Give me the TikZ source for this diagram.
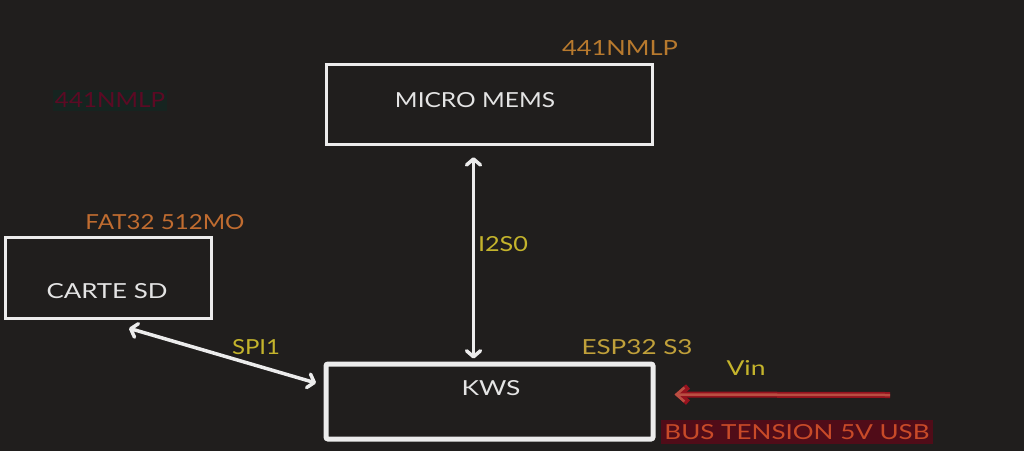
\documentclass[tikz,border=0pt]{standalone}
\usepackage{fontspec}
\setmainfont{Lato}
\usetikzlibrary{arrows.meta,calc}
\definecolor{bg}{RGB}{32,30,29}
\definecolor{boxw}{RGB}{236,236,236}
\definecolor{txtw}{RGB}{228,228,228}
\definecolor{orgA}{RGB}{184,122,46}
\definecolor{orgB}{RGB}{192,108,48}
\definecolor{yelA}{RGB}{196,180,44}
\definecolor{yelB}{RGB}{192,160,58}
\definecolor{busT}{RGB}{200,74,40}
\definecolor{busBG}{RGB}{80,12,24}
\definecolor{ghostT}{RGB}{92,10,36}
\definecolor{ghostBG}{RGB}{22,36,32}
\definecolor{redD}{RGB}{150,18,30}
\definecolor{redL}{RGB}{186,78,66}
\newcommand{\fitt}[2]{\resizebox{#1pt}{15pt}{#2}}
\tikzset{
  lbl/.style={inner sep=0pt, anchor=center},
  boxS/.style={draw=boxw, line width=3.5pt, inner sep=0pt},
  wline/.style={draw=boxw, line width=3.5pt, line cap=round, {Straight Barb[length=6pt,width=14pt,round]}-{Straight Barb[length=6pt,width=14pt,round]}},
}
\begin{document}
\begin{tikzpicture}[x=1pt,y=-1pt]
\fill[bg] (0,0) rectangle (1024,451);
\useasboundingbox (0,0) rectangle (1024,451);
% boxes
\node[boxS, minimum width=326pt, minimum height=80pt] (mems) at (489.5,104.5) {};
\node[boxS, minimum width=206pt, minimum height=81pt] (sd) at (108.5,278) {};
\node[boxS, line width=5pt, rounded corners=2pt, minimum width=327pt, minimum height=75pt] (kws) at (489.5,401.5) {};
% box texts
\node[lbl, text=txtw] (memsT) at (475,100) {\fitt{160}{MICRO MEMS}};
\node[lbl, text=txtw] (sdT) at (107,291) {\fitt{121}{CARTE SD}};
\node[lbl, text=txtw] (kwsT) at (491,388) {\fitt{59}{KWS}};
% labels
\node[lbl, text=orgA] (l441) at (620,48) {\fitt{116}{441NMLP}};
\node[lbl, text=ghostT, fill=ghostBG, inner xsep=2pt, inner ysep=3pt] (ghost) at (110,100) {\fitt{110}{441NMLP}};
\node[lbl, text=orgB] (lfat) at (165,222) {\fitt{159}{FAT32 512MO}};
\node[lbl, text=yelA] (li2s) at (503,244) {\fitt{50}{I2S0}};
\node[lbl, text=yelA] (lspi) at (256,347) {\fitt{48}{SPI1}};
\node[lbl, text=yelB] (lesp) at (637,347) {\fitt{111}{ESP32 S3}};
\node[lbl, text=yelA] (lvin) at (746,368) {\fitt{39}{Vin}};
\node[lbl, text=busT, fill=busBG, inner xsep=3pt, inner ysep=4pt] (lbus) at (797,432) {\fitt{265}{BUS TENSION 5V USB}};
% connectors
\draw[wline] ($(mems.south)+(-16,11)$) -- ($(kws.north)+(-16,-3)$);
\draw[wline] ($(sd.south)+(20.5,8)$) -- ($(kws.west)+(-7.5,-18.5)$);
\coordinate (vsrc) at (890,395);
\draw[redD, line width=6pt, -{Straight Barb[length=9pt,width=16pt]}] (vsrc) -- ($(kws.east)+(19,-7)$);
\draw[redL, line width=2.5pt, -{Straight Barb[length=8pt,width=14pt]}] (vsrc) -- ($(kws.east)+(19,-7)$);
\end{tikzpicture}
\end{document}
